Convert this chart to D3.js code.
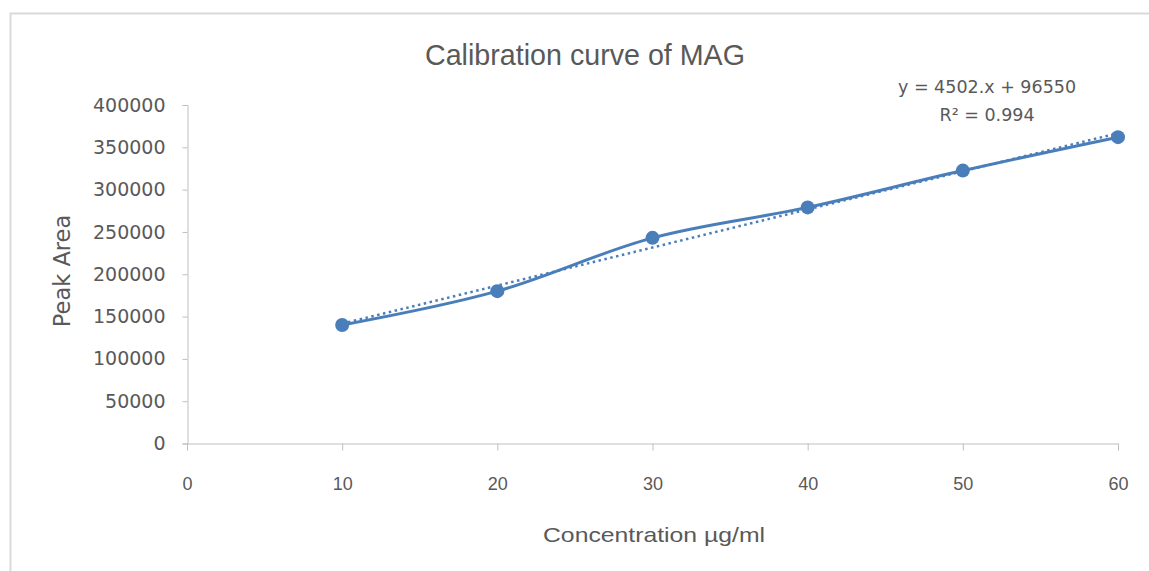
<!DOCTYPE html>
<html><head><meta charset="utf-8">
<script src="https://cdn.jsdelivr.net/npm/d3@7"></script>
<style>
html,body{margin:0;padding:0;background:#fff;}
svg{display:block;}
</style></head>
<body>
<svg id="chart" width="1149" height="571"></svg>
<script>
const concentrations = [10, 20, 30, 40, 50, 60];
const peakAreas = [140000, 180000, 243000, 279000, 322500, 362000];
const xTicks = [0, 10, 20, 30, 40, 50, 60];
const yTicks = [0, 50000, 100000, 150000, 200000, 250000, 300000, 350000, 400000];
const trendSlope = 4502;
const trendIntercept = 96550;
const titleText = "Calibration curve of MAG";
const xTitle = "Concentration µg/ml";
const yTitle = "Peak Area";
const equationLines = ["y = 4502.x + 96550", "R² = 0.994"];

const svg = d3.select("#chart");
const W = 1149, H = 571;
const blue = "#4a7ebb";
const textCol = "#595959";
const axisCol = "#bfbfbf";
const narrow = "'Liberation Sans Narrow', 'Liberation Sans', sans-serif";
const wide = "'DejaVu Sans', sans-serif";

// frame
svg.append("rect").attr("x", 10.5).attr("y", 13.5).attr("width", W + 10).attr("height", H + 10)
  .attr("fill", "#fff").attr("stroke", "#d9d9d9").attr("stroke-width", 2);

const x = d3.scaleLinear().domain([0, 60]).range([187, 1118]);
const y = d3.scaleLinear().domain([0, 400000]).range([443.5, 105]);

// y axis
const yAxis = svg.append("g").attr("transform", "translate(187.5,0)")
  .call(d3.axisLeft(y).tickValues(yTicks).tickSize(5).tickPadding(17).tickFormat(d3.format("d")));
yAxis.selectAll("path,line").attr("stroke", axisCol).attr("stroke-width", 1);
yAxis.selectAll("text").attr("fill", textCol).style("font-family", wide).style("font-size", "19px");

// x axis
const xAxis = svg.append("g").attr("transform", "translate(0,443.5)")
  .call(d3.axisBottom(x).tickValues(xTicks).tickSize(7).tickPadding(0).tickSizeOuter(7));
xAxis.selectAll("path,line").attr("stroke", axisCol).attr("stroke-width", 1);
xAxis.selectAll("text").attr("fill", textCol).attr("dy", null).attr("y", 46.5)
  .style("font-family", narrow).style("font-size", "18px");

// title
svg.append("text").attr("x", 585).attr("y", 65).attr("text-anchor", "middle")
  .attr("textLength", 320).attr("lengthAdjust", "spacingAndGlyphs")
  .attr("fill", textCol).style("font-family", narrow).style("font-size", "30px").text(titleText);

// axis titles
svg.append("text").attr("x", 654).attr("y", 542).attr("text-anchor", "middle")
  .attr("textLength", 222).attr("lengthAdjust", "spacingAndGlyphs")
  .attr("fill", textCol).style("font-family", narrow).style("font-size", "21px").text(xTitle);
svg.append("text").attr("transform", "translate(70,271) rotate(-90)").attr("text-anchor", "middle")
  .attr("fill", textCol).style("font-family", wide).style("font-size", "22.5px").text(yTitle);

// data
const pts = concentrations.map((c, i) => [c, peakAreas[i]]);

// trend line
const tx = [concentrations[0], concentrations[concentrations.length - 1]];
svg.append("line")
  .attr("x1", x(tx[0])).attr("y1", y(trendSlope * tx[0] + trendIntercept))
  .attr("x2", x(tx[1])).attr("y2", y(trendSlope * tx[1] + trendIntercept))
  .attr("stroke", blue).attr("stroke-width", 2.5).attr("stroke-dasharray", "2.5,3.5");

// smooth line
const line = d3.line().x(d => x(d[0])).y(d => y(d[1])).curve(d3.curveCatmullRom.alpha(0.5));
svg.append("path").datum(pts).attr("d", line).attr("fill", "none")
  .attr("stroke", blue).attr("stroke-width", 3);

svg.selectAll("circle.pt").data(pts).enter().append("circle").attr("class", "pt")
  .attr("cx", d => x(d[0])).attr("cy", d => y(d[1])).attr("r", 7).attr("fill", blue);

// equation
svg.selectAll("text.eq").data(equationLines).enter().append("text").attr("class", "eq")
  .attr("x", 987).attr("y", (d, i) => 93 + i * 28).attr("text-anchor", "middle")
  .attr("fill", textCol).style("font-family", wide).style("font-size", "17.5px").text(d => d);
</script>
</body></html>
